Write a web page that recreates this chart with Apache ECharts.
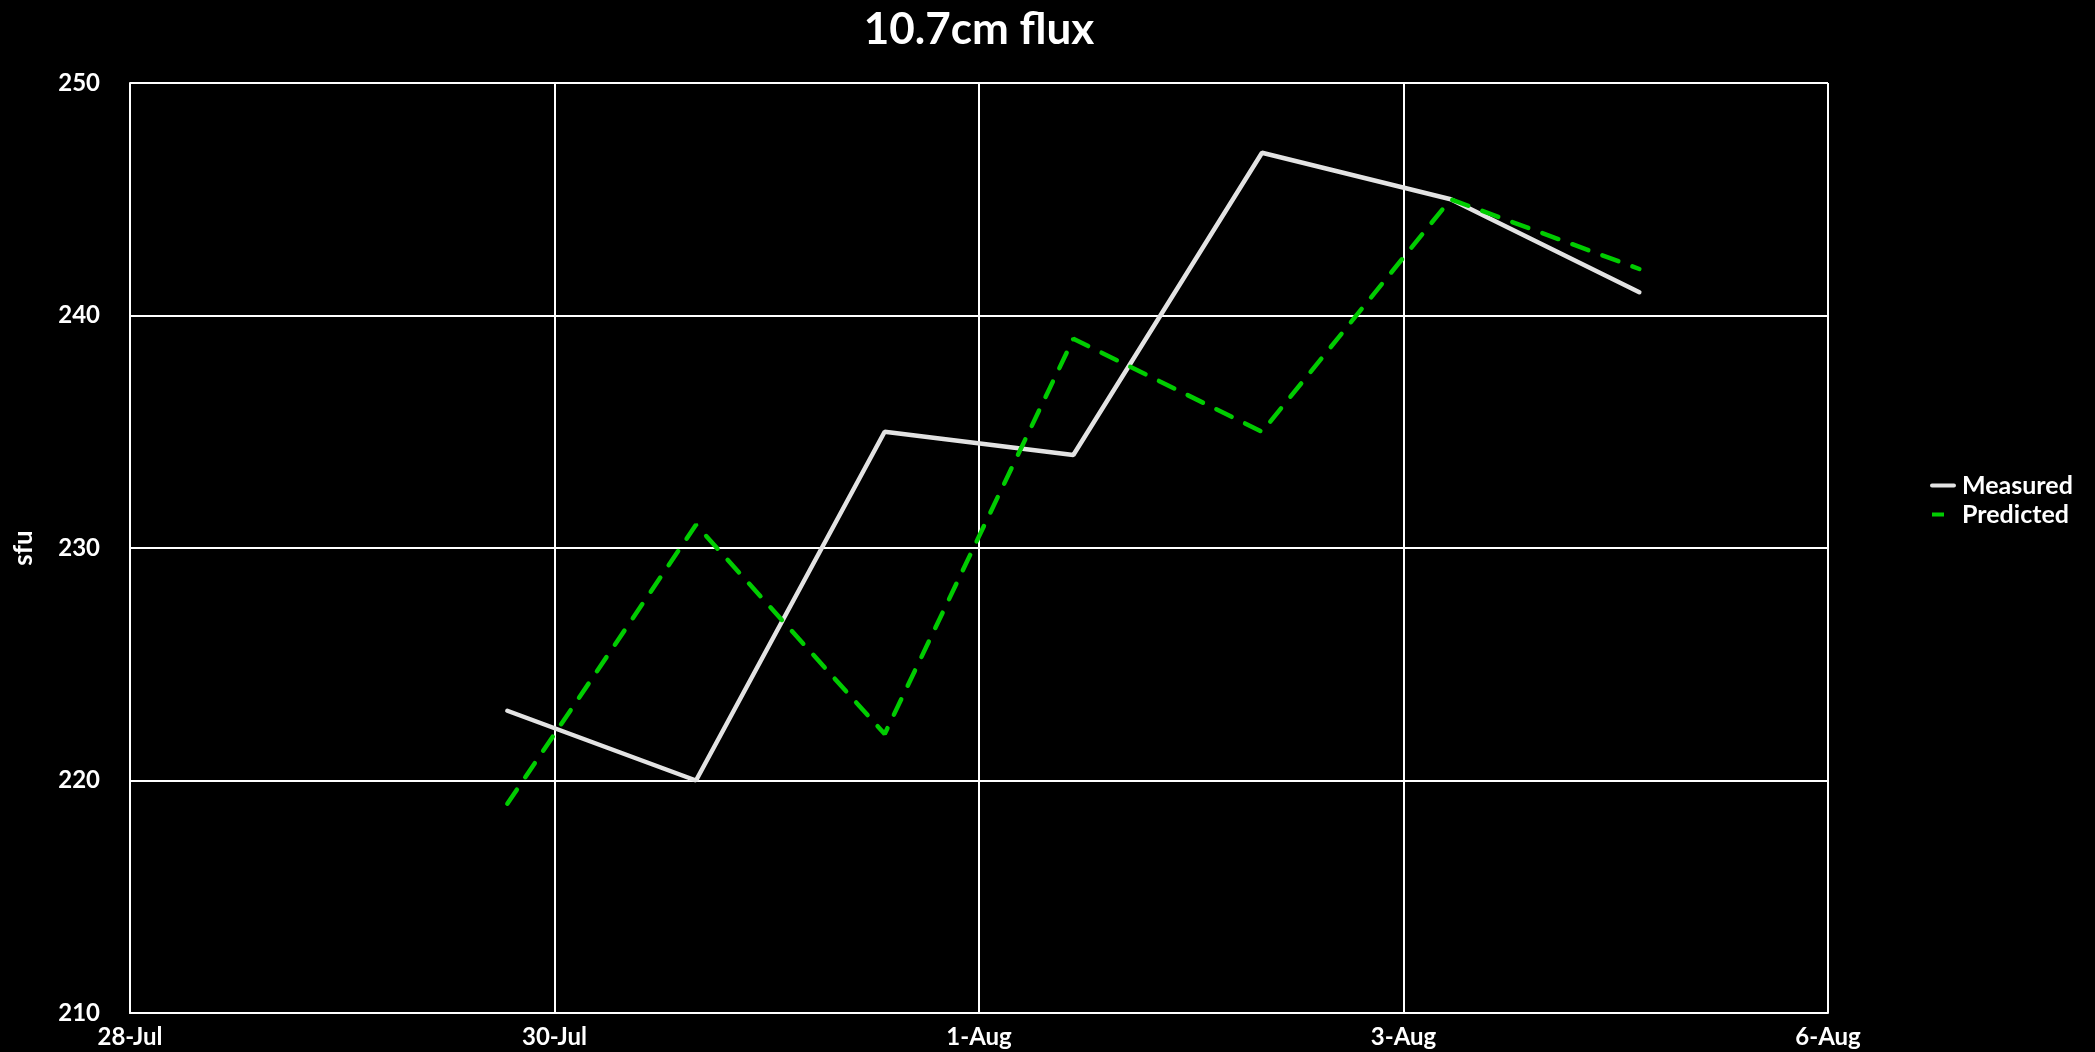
<!DOCTYPE html>
<html>
<head>
<meta charset="utf-8">
<style>
  html, body { margin: 0; padding: 0; background: #000; }
  #chart { width: 2095px; height: 1052px; }
</style>
<script src="https://cdn.jsdelivr.net/npm/echarts@6/dist/echarts.min.js"></script>
</head>
<body>
<div id="chart"></div>
<script>
// ---- data ----
const axisStart = '2024-07-28';
const dates = ['2024-07-30', '2024-07-31', '2024-08-01', '2024-08-02', '2024-08-03', '2024-08-04', '2024-08-05'];
const measured = [223, 220, 235, 234, 247, 245, 241];
const predicted = [219, 231, 222, 239, 235, 245, 242];
const xTickLabels = ['28-Jul', '30-Jul', '1-Aug', '3-Aug', '6-Aug'];
const yTicks = [210, 220, 230, 240, 250];

const DAY = 86400000;
const t0 = Date.parse(axisStart + 'T00:00:00Z');
const dayOffset = d => (Date.parse(d + 'T00:00:00Z') - t0) / DAY;
const xStep = 2.25;           // axis major unit in days
const xMax = xStep * (xTickLabels.length - 1);

const FONT = 'Lato';
const chart = echarts.init(document.getElementById('chart'), null, { renderer: 'canvas' });
chart.setOption({
  backgroundColor: '#000000',
  animation: false,
  title: {
    text: '10.7cm flux',
    left: 974, top: 3, textAlign: 'center',
    textStyle: { color: '#ffffff', fontFamily: FONT, fontWeight: 'bold', fontSize: 44 }
  },
  legend: {
    orient: 'vertical',
    left: 1925, top: 468,
    itemWidth: 22, itemHeight: 4, itemGap: 4,
    itemStyle: { opacity: 0 },
    textStyle: { color: '#ffffff', fontFamily: FONT, fontWeight: 'bold', fontSize: 25, lineHeight: 25, padding: [0, 0, 0, 3] },
    data: [
      { name: 'Measured', lineStyle: { width: 4 } },
      { name: 'Predicted', lineStyle: { width: 4, type: [12, 30], cap: 'butt' } }
    ]
  },
  grid: { left: 130, right: 267, top: 83, bottom: 39, containLabel: false },
  xAxis: {
    type: 'value',
    min: 0, max: xMax, interval: xStep,
    axisLine: { show: true, lineStyle: { color: '#ffffff', width: 2 } },
    axisTick: { show: false },
    splitLine: { show: true, lineStyle: { color: '#ffffff', width: 2 } },
    axisLabel: {
      color: '#ffffff', fontFamily: FONT, fontWeight: 'bold', fontSize: 24, margin: 12,
      showMinLabel: true, showMaxLabel: true,
      formatter: v => xTickLabels[Math.round(v / xStep)] || ''
    }
  },
  yAxis: {
    type: 'value',
    min: yTicks[0], max: yTicks[yTicks.length - 1], interval: yTicks[1] - yTicks[0],
    name: 'sfu', nameLocation: 'middle', nameGap: 93, nameRotate: 90,
    nameTextStyle: { color: '#ffffff', fontFamily: FONT, fontWeight: 'bold', fontSize: 26 },
    axisLine: { show: true, lineStyle: { color: '#ffffff', width: 2 } },
    axisTick: { show: false },
    splitLine: { show: true, lineStyle: { color: '#ffffff', width: 2 } },
    axisLabel: { color: '#ffffff', fontFamily: FONT, fontWeight: 'bold', fontSize: 24, margin: 30 }
  },
  series: [
    {
      name: 'Measured', type: 'line',
      data: dates.map((d, i) => [dayOffset(d), measured[i]]),
      showSymbol: false, symbol: 'none',
      lineStyle: { color: '#e3e3e3', width: 4.5, cap: 'round' },
      itemStyle: { color: '#e3e3e3' }
    },
    {
      name: 'Predicted', type: 'line',
      data: dates.map((d, i) => [dayOffset(d), predicted[i]]),
      showSymbol: false, symbol: 'none',
      lineStyle: { color: '#00cc00', width: 4.5, type: [17, 15], cap: 'round' },
      itemStyle: { color: '#00cc00' }
    }
  ]
});
</script>
</body>
</html>
